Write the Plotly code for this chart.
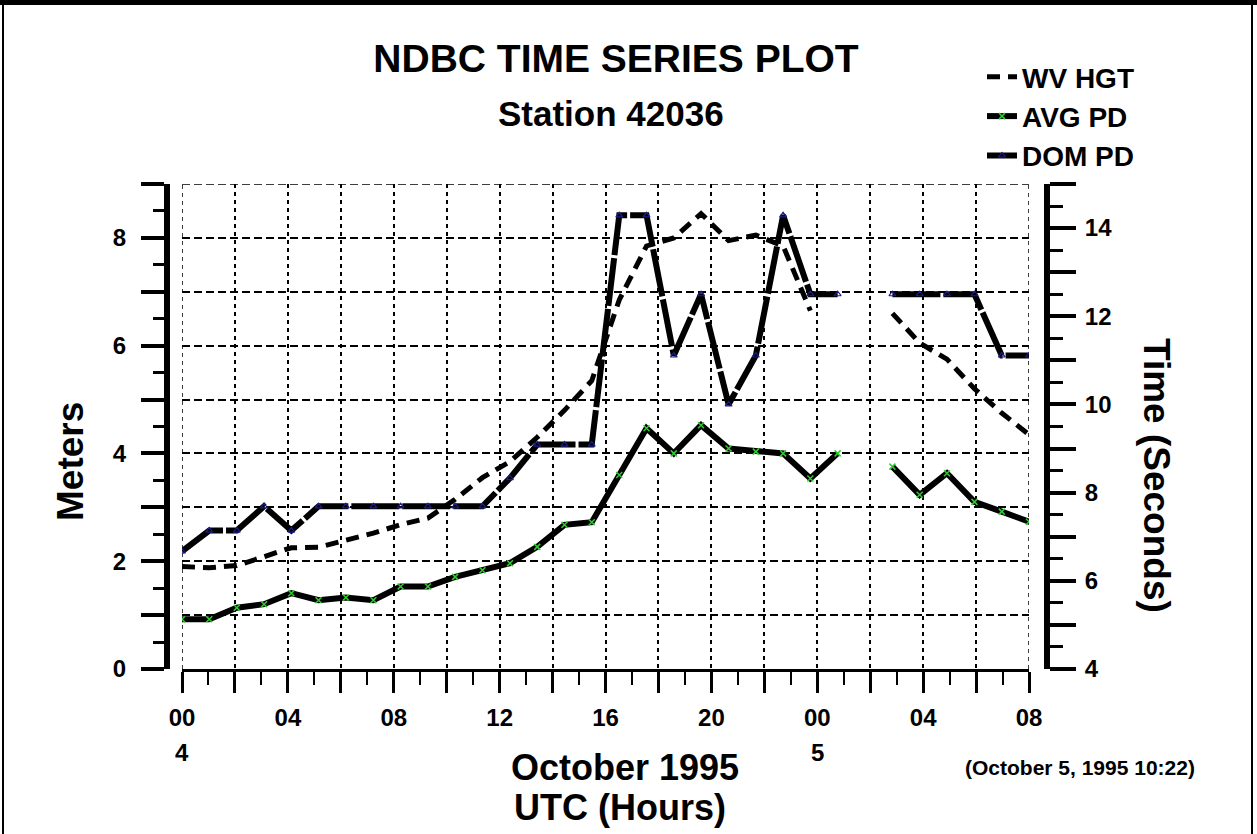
import plotly.graph_objects as go

# ---------------- data ----------------
# hours since 00 UTC, October 4, 1995
HOURS = [0.00, 1.03, 2.07, 3.10, 4.13, 5.16, 6.19, 7.23, 8.26, 9.29, 10.32,
         11.35, 12.39, 13.42, 14.45, 15.48, 16.52, 17.55, 18.58, 19.61, 20.65,
         21.68, 22.71, 23.74, 24.77, 25.81, 26.84, 27.87, 28.90, 29.94, 30.97,
         32.00]
# significant wave height (meters, left axis)
WV_HGT = [1.90, 1.88, 1.92, 2.08, 2.25, 2.26, 2.38, 2.52, 2.68, 2.80, 3.15,
          3.55, 3.85, 4.30, 4.80, 5.35, 6.85, 7.85, 8.00, 8.45, 7.95,
          8.05, 7.85, 6.65, None, None, 6.60, 6.05, 5.75, 5.20, 4.75,
          4.35]
# average wave period (seconds, right axis)
AVG_PD = [5.13, 5.13, 5.39, 5.47, 5.72, 5.56, 5.62, 5.56, 5.87, 5.87, 6.09,
          6.24, 6.40, 6.77, 7.27, 7.33, 8.40, 9.46, 8.89, 9.53, 9.00,
          8.93, 8.89, 8.32, 8.89, None, 8.59, 7.95, 8.44, 7.79, 7.57,
          7.34]
# dominant wave period (seconds, right axis)
DOM_PD = [6.67, 7.14, 7.14, 7.69, 7.14, 7.69, 7.69, 7.69, 7.69, 7.69, 7.69,
          7.69, 8.33, 9.09, 9.09, 9.09, 14.29, 14.29, 11.11, 12.50, 10.00,
          11.11, 14.29, 12.50, 12.50, None, 12.50, 12.50, 12.50, 12.50, 11.11,
          11.11]

X_RANGE = [0, 32]
Y1_RANGE = [0, 9]
Y2_RANGE = [4, 15]
X_TICK_VALS = [0, 2, 4, 6, 8, 10, 12, 14, 16, 18, 20, 22, 24, 26, 28, 30, 32]
X_TICK_TEXT = ["00", "", "04", "", "08", "", "12", "", "16", "", "20", "",
               "00", "", "04", "", "08"]
DAY_HOURS = [0, 24]
DAY_TEXT = ["4", "5"]
Y1_TICK_VALS = [0, 1, 2, 3, 4, 5, 6, 7, 8, 9]
Y1_TICK_TEXT = ["0", "", "2", "", "4", "", "6", "", "8", ""]
Y2_TICK_VALS = [4, 5, 6, 7, 8, 9, 10, 11, 12, 13, 14, 15]
Y2_TICK_TEXT = ["4", "", "6", "", "8", "", "10", "", "12", "", "14", ""]

TITLE = "NDBC TIME SERIES PLOT"
SUBTITLE = "Station 42036"
X_TITLE_1 = "October 1995"
X_TITLE_2 = "UTC (Hours)"
Y1_TITLE = "Meters"
Y2_TITLE = "Time (Seconds)"
STAMP = "(October 5, 1995 10:22)"

# ---------------- layout geometry (pixels) ----------------
W, H = 1257, 834
ML, MR, MT, MB = 160, 200, 184, 165
PW = W - ML - MR
PH = H - MT - MB


def px_x(p):
    return (p - ML) / PW


def px_y(p):
    return (H - MB - p) / PH


FONT = "Liberation Sans, Arial, Helvetica, sans-serif"


def bold(size):
    return dict(family=FONT, size=size, color="black", weight="bold")


fig = go.Figure()
fig.add_trace(go.Scatter(
    x=HOURS, y=WV_HGT, name="WV HGT", mode="lines", yaxis="y",
    line=dict(color="black", width=5, dash="13px,8px"),
    connectgaps=False))
fig.add_trace(go.Scatter(
    x=HOURS, y=AVG_PD, name="AVG PD", mode="lines+markers", yaxis="y2",
    line=dict(color="black", width=6),
    marker=dict(symbol="x-thin", size=6, color="#2ecc2e",
                line=dict(color="#2ecc2e", width=1.5)),
    connectgaps=False))
fig.add_trace(go.Scatter(
    x=HOURS, y=DOM_PD, name="DOM PD", mode="lines+markers", yaxis="y2",
    line=dict(color="black", width=6, dash="48px,3px"),
    marker=dict(symbol="triangle-up-open", size=6, color="#1c1c8a",
                line=dict(color="#1c1c8a", width=1.2)),
    connectgaps=False))

annotations = [
    dict(text=SUBTITLE, xref="paper", yref="paper", x=px_x(611), y=px_y(113),
         showarrow=False, font=bold(35), xanchor="center", yanchor="middle"),
    dict(text=Y1_TITLE, xref="paper", yref="paper",
         x=px_x(70), y=px_y(462), textangle=-90, showarrow=False,
         font=bold(37), xanchor="center", yanchor="middle"),
    dict(text=Y2_TITLE, xref="paper", yref="paper",
         x=px_x(1157), y=px_y(475), textangle=90, showarrow=False,
         font=bold(37), xanchor="center", yanchor="middle"),
    dict(text=X_TITLE_1, xref="paper", yref="paper", x=px_x(625), y=px_y(767),
         showarrow=False, font=bold(36), xanchor="center", yanchor="middle"),
    dict(text=X_TITLE_2, xref="paper", yref="paper", x=px_x(620), y=px_y(808),
         showarrow=False, font=bold(36), xanchor="center", yanchor="middle"),
    dict(text=STAMP, xref="paper", yref="paper", x=px_x(1080), y=px_y(767),
         showarrow=False, font=bold(21), xanchor="center", yanchor="middle"),
]
for h, t in zip(DAY_HOURS, DAY_TEXT):
    annotations.append(dict(text=t, xref="x", yref="paper", x=h, y=px_y(752),
                            showarrow=False, font=bold(24),
                            xanchor="center", yanchor="middle"))

GRID_V = dict(color="black", width=1.5, dash="4px,4px")
GRID_H = dict(color="black", width=1.5, dash="8px,4px")
shapes = [
    # figure border
    dict(type="line", xref="paper", yref="paper", x0=px_x(0), x1=px_x(W),
         y0=px_y(2.5), y1=px_y(2.5), line=dict(color="black", width=5)),
    dict(type="line", xref="paper", yref="paper", x0=px_x(3), x1=px_x(3),
         y0=px_y(0), y1=px_y(H), line=dict(color="black", width=2)),
    dict(type="line", xref="paper", yref="paper", x0=px_x(1252), x1=px_x(1252),
         y0=px_y(0), y1=px_y(H), line=dict(color="black", width=2)),
    # grid lines on the plot-area edges
    dict(type="line", xref="x", yref="y domain", x0=X_RANGE[0], x1=X_RANGE[0],
         y0=0, y1=1, line=GRID_V, layer="below"),
    dict(type="line", xref="x", yref="y domain", x0=X_RANGE[1], x1=X_RANGE[1],
         y0=0, y1=1, line=GRID_V, layer="below"),
    dict(type="line", xref="x domain", yref="y", x0=0, x1=1,
         y0=Y1_RANGE[1], y1=Y1_RANGE[1], line=GRID_H, layer="below"),
]

fig.update_layout(
    width=W, height=H,
    margin=dict(l=ML, r=MR, t=MT, b=MB, autoexpand=False),
    paper_bgcolor="white", plot_bgcolor="white",
    font=bold(22),
    title=dict(text=TITLE, font=bold(39), x=616 / W, xref="container",
               xanchor="center", y=1 - 58 / H, yref="container",
               yanchor="middle"),
    showlegend=True,
    legend=dict(x=px_x(982), y=px_y(52), xanchor="left", yanchor="top",
                font=bold(28), bgcolor="rgba(0,0,0,0)", tracegroupgap=0,
                itemwidth=30),
    xaxis=dict(
        domain=[px_x(182), px_x(1029)], range=X_RANGE,
        tickmode="array", tickvals=X_TICK_VALS, ticktext=X_TICK_TEXT,
        ticks="outside", ticklen=21, tickwidth=3, tickcolor="black",
        showline=True, linewidth=3, linecolor="black",
        showgrid=True, gridcolor="black", gridwidth=1.5,
        griddash=GRID_V["dash"],
        zeroline=False, tickfont=bold(24), ticklabelstandoff=4,
        minor=dict(tickmode="linear", tick0=0, dtick=1, ticks="outside",
                   ticklen=13, tickwidth=2, tickcolor="black", showgrid=False),
        automargin=False,
    ),
    yaxis=dict(
        domain=[0, 1], range=Y1_RANGE, anchor="free", position=px_x(167),
        tickmode="array", tickvals=Y1_TICK_VALS, ticktext=Y1_TICK_TEXT,
        ticks="outside", ticklen=23, tickwidth=4, tickcolor="black",
        showline=True, linewidth=6, linecolor="black",
        showgrid=True, gridcolor="black", gridwidth=1.5,
        griddash=GRID_H["dash"],
        zeroline=False, tickfont=bold(24), ticklabelstandoff=10,
        minor=dict(tickmode="linear", tick0=0, dtick=0.5, ticks="outside",
                   ticklen=11, tickwidth=2.5, tickcolor="black",
                   showgrid=False),
        automargin=False,
    ),
    yaxis2=dict(
        overlaying="y", side="right", range=Y2_RANGE, anchor="free",
        position=px_x(1047),
        tickmode="array", tickvals=Y2_TICK_VALS, ticktext=Y2_TICK_TEXT,
        ticks="outside", ticklen=26, tickwidth=4, tickcolor="black",
        showline=True, linewidth=6, linecolor="black",
        showgrid=False, zeroline=False, tickfont=bold(24),
        ticklabelstandoff=4,
        minor=dict(tickmode="linear", tick0=4, dtick=0.5, ticks="outside",
                   ticklen=13, tickwidth=2.5, tickcolor="black",
                   showgrid=False),
        automargin=False,
    ),
    annotations=annotations,
    shapes=shapes,
)

fig.write_html("out.html", config={"displayModeBar": False},
               post_script="document.body.style.margin='0';"
                           "document.body.style.overflow='hidden';")
